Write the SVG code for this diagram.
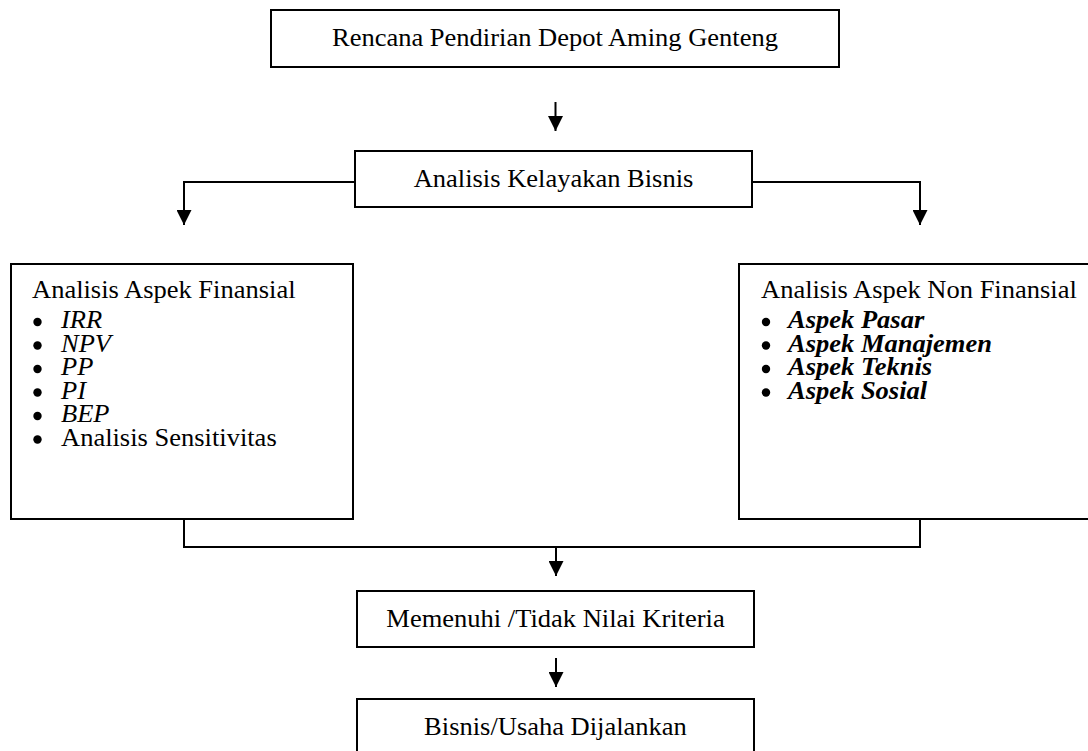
<svg xmlns="http://www.w3.org/2000/svg" width="1088" height="751" viewBox="0 0 1088 751">
<style>
  .box { fill: #fff; stroke: #000; stroke-width: 2; }
  .t { font-family: "Liberation Serif", "Times New Roman", serif; font-size: 24.5px; fill: #000; }
  .c { text-anchor: middle; }
  .i { font-style: italic; }
  .bi { font-style: italic; font-weight: bold; }
  .ln { fill: none; stroke: #000; stroke-width: 2; }
  .dot { fill: #000; }
</style>
<defs>
  <marker id="arr" markerWidth="15" markerHeight="15" refX="15" refY="7.5" orient="auto" markerUnits="userSpaceOnUse">
    <path d="M0,0 L15,7.5 L0,15 Z" fill="#000"/>
  </marker>
</defs>
<rect width="1088" height="751" fill="#fff"/>

<g id="connectors">
  <line class="ln" x1="555.5" y1="102" x2="555.5" y2="131" marker-end="url(#arr)"/>
  <polyline class="ln" points="355,182 184,182 184,225" marker-end="url(#arr)"/>
  <polyline class="ln" points="752,182 920,182 920,225" marker-end="url(#arr)"/>
  <polyline class="ln" points="184,519 184,547 920,547 920,519"/>
  <line class="ln" x1="556" y1="547" x2="556" y2="576" marker-end="url(#arr)"/>
  <line class="ln" x1="556" y1="658" x2="556" y2="687" marker-end="url(#arr)"/>
</g>

<g id="node-rencana">
  <rect class="box" x="271" y="10" width="568" height="57"/>
  <text class="t c" transform="matrix(1.082 0 0 1 555 46)">Rencana Pendirian Depot Aming Genteng</text>
</g>

<g id="node-analisis">
  <rect class="box" x="355" y="151" width="397" height="56"/>
  <text class="t c" transform="matrix(1.082 0 0 1 553.5 187)">Analisis Kelayakan Bisnis</text>
</g>

<g id="node-finansial">
  <rect class="box" x="11" y="264" width="342" height="255"/>
  <circle class="dot" cx="37.5" cy="322" r="4.2"/>
  <circle class="dot" cx="37.5" cy="345.5" r="4.2"/>
  <circle class="dot" cx="37.5" cy="369" r="4.2"/>
  <circle class="dot" cx="37.5" cy="392.5" r="4.2"/>
  <circle class="dot" cx="37.5" cy="416" r="4.2"/>
  <circle class="dot" cx="37.5" cy="439.5" r="4.2"/>
  <text class="t" transform="matrix(1.082 0 0 1 32 298)">Analisis Aspek Finansial</text>
  <text class="t i" transform="matrix(1.082 0 0 1 61 328)">IRR</text>
  <text class="t i" transform="matrix(1.082 0 0 1 61 351.5)">NPV</text>
  <text class="t i" transform="matrix(1.082 0 0 1 61 375)">PP</text>
  <text class="t i" transform="matrix(1.082 0 0 1 61 398.5)">PI</text>
  <text class="t i" transform="matrix(1.082 0 0 1 61 422)">BEP</text>
  <text class="t" transform="matrix(1.082 0 0 1 61 445.5)">Analisis Sensitivitas</text>
</g>

<g id="node-nonfinansial">
  <rect class="box" x="739" y="264" width="360" height="255"/>
  <circle class="dot" cx="766" cy="322" r="4.2"/>
  <circle class="dot" cx="766" cy="345.5" r="4.2"/>
  <circle class="dot" cx="766" cy="369" r="4.2"/>
  <circle class="dot" cx="766" cy="392.5" r="4.2"/>
  <text class="t" transform="matrix(1.082 0 0 1 761 298)">Analisis Aspek Non Finansial</text>
  <text class="t bi" transform="matrix(1.082 0 0 1 788 328)">Aspek Pasar</text>
  <text class="t bi" transform="matrix(1.082 0 0 1 788 351.5)">Aspek Manajemen</text>
  <text class="t bi" transform="matrix(1.082 0 0 1 788 375)">Aspek Teknis</text>
  <text class="t bi" transform="matrix(1.082 0 0 1 788 398.5)">Aspek Sosial</text>
</g>

<g id="node-memenuhi">
  <rect class="box" x="357" y="591" width="397" height="56"/>
  <text class="t c" transform="matrix(1.082 0 0 1 555.5 627)">Memenuhi /Tidak Nilai Kriteria</text>
</g>

<g id="node-bisnis">
  <rect class="box" x="357" y="699" width="397" height="62"/>
  <text class="t c" transform="matrix(1.082 0 0 1 555.5 735)">Bisnis/Usaha Dijalankan</text>
</g>
</svg>
